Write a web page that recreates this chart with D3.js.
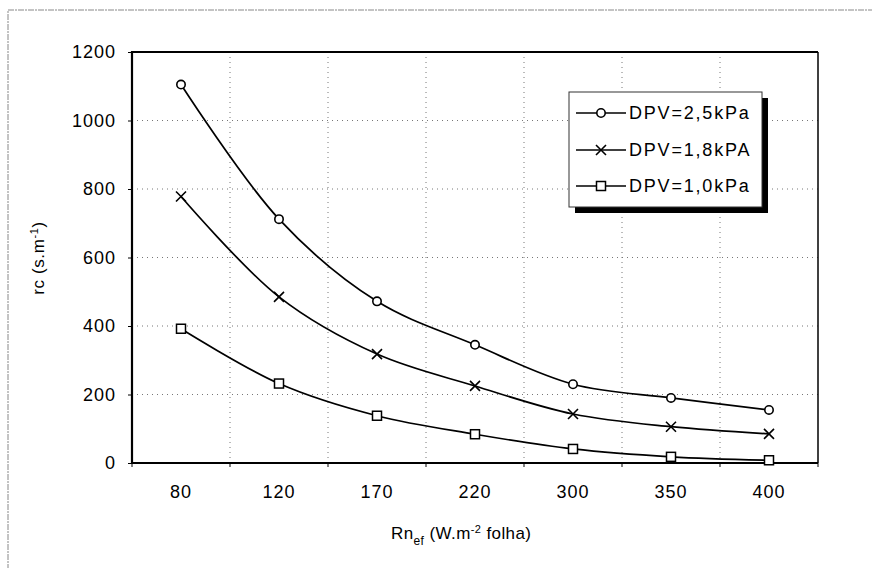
<!DOCTYPE html>
<html><head><meta charset="utf-8">
<script src="https://cdn.jsdelivr.net/npm/d3@7"></script>
<style>
body{margin:0;background:#fff;}
svg{display:block;font-family:"Liberation Sans",Arial,sans-serif;}
</style></head>
<body>
<svg id="chart" width="872" height="568"></svg>
<script>
const categories = ["80","120","170","220","300","350","400"];
const dpv25 = [1105, 712, 472, 345, 230, 190, 155];
const dpv18 = [778, 485, 318, 225, 143, 106, 85];
const dpv10 = [392, 232, 138, 84, 41, 18, 8];
const seriesNames = ["DPV=2,5kPa","DPV=1,8kPA","DPV=1,0kPa"];
const yTicks = [0,200,400,600,800,1000,1200];

const svg = d3.select("#chart");
const m = {l:132, t:52, r:818, b:463};

// outer frame
svg.append("rect").attr("x",8).attr("y",10).attr("width",900).attr("height",600)
  .attr("fill","none").attr("stroke","#888").attr("stroke-width",1).attr("stroke-dasharray","6,1,2,1");

const x = d3.scaleBand().domain(categories).range([m.l,m.r]).padding(0);
const y = d3.scaleLinear().domain([0,1200]).range([m.b,m.t]);

// grid
const g = svg.append("g");
g.selectAll(".hg").data(yTicks.filter(d=>d>0&&d<1200)).join("line")
  .attr("x1",m.l).attr("x2",m.r).attr("y1",d=>y(d)).attr("y2",d=>y(d))
  .attr("stroke","#777").attr("stroke-width",1).attr("stroke-dasharray","1,4");
g.selectAll(".vg").data(categories.slice(1)).join("line")
  .attr("x1",d=>x(d)).attr("x2",d=>x(d)).attr("y1",m.t).attr("y2",m.b)
  .attr("stroke","#777").attr("stroke-width",1).attr("stroke-dasharray","1,4");

// axes
const yAxis = d3.axisLeft(y).tickValues(yTicks).tickFormat(d3.format("d")).tickSize(4).tickPadding(12);
const ya = svg.append("g").attr("transform",`translate(${m.l},0)`).call(yAxis);
ya.select(".domain").remove();
ya.selectAll("text").attr("font-size",18).attr("letter-spacing","1px").attr("fill","#000")
  .attr("font-family","Liberation Sans, Arial, sans-serif");

const xAxis = d3.axisBottom(x).tickSize(0).tickPadding(22);
const xa = svg.append("g").attr("transform",`translate(0,${m.b})`).call(xAxis);
xa.select(".domain").remove();
xa.selectAll("text").attr("font-size",18).attr("letter-spacing","1px").attr("fill","#000")
  .attr("font-family","Liberation Sans, Arial, sans-serif");
// x ticks at band boundaries
svg.append("g").selectAll("line").data(categories.concat(["end"])).join("line")
  .attr("x1",(d,i)=> i<categories.length ? x(d) : m.r)
  .attr("x2",(d,i)=> i<categories.length ? x(d) : m.r)
  .attr("y1",m.b).attr("y2",m.b+4).attr("stroke","#000").attr("stroke-width",1);

// plot border
svg.append("line").attr("x1",m.l).attr("x2",m.r).attr("y1",m.t).attr("y2",m.t).attr("stroke","#000").attr("stroke-width",2);
svg.append("line").attr("x1",m.r).attr("x2",m.r).attr("y1",m.t).attr("y2",m.b).attr("stroke","#000").attr("stroke-width",1.5);
svg.append("line").attr("x1",m.l).attr("x2",m.l).attr("y1",m.t-1).attr("y2",m.b+1).attr("stroke","#000").attr("stroke-width",2.2);
svg.append("line").attr("x1",m.l-1).attr("x2",m.r).attr("y1",m.b).attr("y2",m.b).attr("stroke","#000").attr("stroke-width",2.2);

// series
const series = [
  {name:seriesNames[0], values:dpv25, marker:"circle"},
  {name:seriesNames[1], values:dpv18, marker:"cross"},
  {name:seriesNames[2], values:dpv10, marker:"square"}
];
const line = d3.line().x((d,i)=>x(categories[i])+x.bandwidth()/2).y(d=>y(d)).curve(d3.curveCatmullRom.alpha(0.5));

function drawMarker(sel, type, cx, cy){
  if(type==="circle"){
    sel.append("circle").attr("cx",cx).attr("cy",cy).attr("r",4.2).attr("fill","#fff").attr("stroke","#000").attr("stroke-width",1.6);
  } else if(type==="cross"){
    const s=5;
    sel.append("path").attr("d",`M${cx-s},${cy-s}L${cx+s},${cy+s}M${cx-s},${cy+s}L${cx+s},${cy-s}`).attr("stroke","#000").attr("stroke-width",1.6);
  } else {
    sel.append("rect").attr("x",cx-4.5).attr("y",cy-4.5).attr("width",9).attr("height",9).attr("fill","#fff").attr("stroke","#000").attr("stroke-width",1.5);
  }
}

series.forEach(s=>{
  svg.append("path").datum(s.values).attr("d",line).attr("fill","none").attr("stroke","#000").attr("stroke-width",1.7);
  const mg = svg.append("g");
  s.values.forEach((v,i)=>drawMarker(mg, s.marker, x(categories[i])+x.bandwidth()/2, y(v)));
});

// legend
const L = {x:569, y:92, w:193, h:115};
svg.append("rect").attr("x",L.x+6).attr("y",L.y+6).attr("width",L.w).attr("height",L.h).attr("fill","#000");
svg.append("rect").attr("x",L.x).attr("y",L.y).attr("width",L.w).attr("height",L.h).attr("fill","#fff").attr("stroke","#333").attr("stroke-width",1);
const rows = [113,150,186];
series.forEach((s,i)=>{
  const lg = svg.append("g");
  lg.append("line").attr("x1",576).attr("x2",626).attr("y1",rows[i]).attr("y2",rows[i]).attr("stroke","#000").attr("stroke-width",1.5);
  drawMarker(lg, s.marker, 601, rows[i]);
  lg.append("text").attr("x",629).attr("y",rows[i]+6).attr("font-size",18).attr("letter-spacing","1.8px").text(s.name);
});

// axis titles
const yt = svg.append("text").attr("transform","translate(44,258) rotate(-90)").attr("text-anchor","middle").attr("font-size",17).attr("letter-spacing","0.6px");
yt.append("tspan").text("rc (s.m");
yt.append("tspan").attr("dy",-6).attr("font-size",11).text("-1");
yt.append("tspan").attr("dy",6).text(")");

const xt = svg.append("text").attr("x",391).attr("y",539).attr("font-size",17).attr("letter-spacing","0.4px");
xt.append("tspan").text("Rn");
xt.append("tspan").attr("dy",6).attr("font-size",12).text("ef");
xt.append("tspan").attr("dy",-6).text(" (W.m");
xt.append("tspan").attr("dy",-6).attr("font-size",11).text("-2");
xt.append("tspan").attr("dy",6).text(" folha)");
</script>
</body></html>
